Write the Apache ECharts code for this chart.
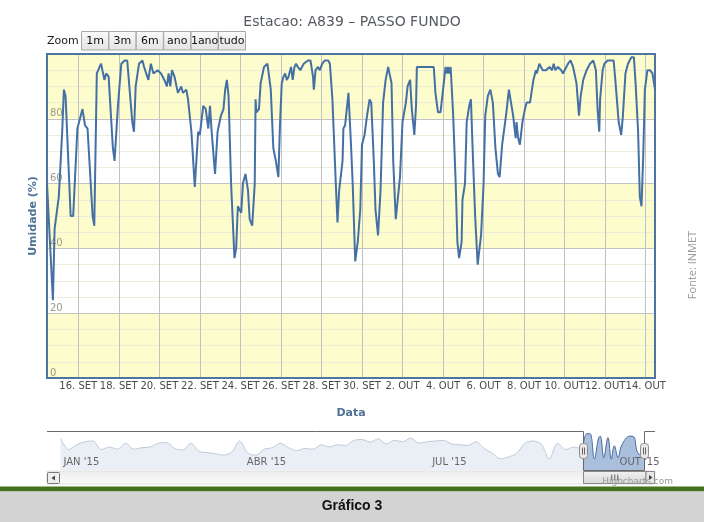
<!DOCTYPE html>
<html>
<head>
<meta charset="utf-8">
<script src="https://cdn.jsdelivr.net/npm/echarts@6/dist/echarts.min.js"></script>
<style>
html,body{margin:0;padding:0;background:#fff;}
#c{width:704px;height:522px;}
</style>
</head>
<body>
<div id="c"></div>
<script>
// ---------- texts ----------
const titleText = 'Estacao: A839 \u2013 PASSO FUNDO';
const yAxisTitle = 'Umidade (%)';
const xAxisTitle = 'Data';
const captionText = 'Gráfico 3';
const sourceText = 'Fonte: INMET';
const creditText = 'Highcharts.com';
const zoomLabel = 'Zoom';
const zoomButtons = ['1m', '3m', '6m', 'ano', '1ano', 'tudo'];
const monthNames = ['JAN','FEV','MAR','ABR','MAI','JUN','JUL','AGO','SET','OUT','NOV','DEZ'];

// ---------- axes ----------
const viewStart = '2015-09-14 11:00';
const viewEnd = '2015-10-14 11:00';
const xTickDates = ['2015-09-16','2015-09-18','2015-09-20','2015-09-22','2015-09-24','2015-09-26','2015-09-28','2015-09-30',
                    '2015-10-02','2015-10-04','2015-10-06','2015-10-08','2015-10-10','2015-10-12','2015-10-14'];
const yMin = 0, yMax = 100, yStep = 20;
const navRange = ['2014-12-25 09:00', '2015-10-19 21:00'];
const navTickDates = ['2015-01-01','2015-04-01','2015-07-01','2015-10-01'];

// ---------- relative humidity (%), Sep 14 - Oct 14 2015 ----------
const humTimes = [
'2015-09-14 11:00','2015-09-14 18:00','2015-09-14 20:00',
'2015-09-15 01:00','2015-09-15 05:00','2015-09-15 07:00','2015-09-15 09:00','2015-09-15 15:00','2015-09-15 18:00','2015-09-15 23:00',
'2015-09-16 05:00','2015-09-16 08:00','2015-09-16 11:00','2015-09-16 17:00','2015-09-16 19:00','2015-09-16 22:00',
'2015-09-17 03:00','2015-09-17 07:00','2015-09-17 09:00','2015-09-17 12:00','2015-09-17 17:00','2015-09-17 19:00','2015-09-17 23:00',
'2015-09-18 03:00','2015-09-18 07:00','2015-09-18 10:00','2015-09-18 16:00','2015-09-18 18:00','2015-09-18 20:00',
'2015-09-19 00:00','2015-09-19 04:00','2015-09-19 06:00','2015-09-19 08:00','2015-09-19 11:00','2015-09-19 14:00','2015-09-19 17:00','2015-09-19 22:00',
'2015-09-20 02:00','2015-09-20 06:00','2015-09-20 09:00','2015-09-20 11:00','2015-09-20 13:00','2015-09-20 15:00','2015-09-20 18:00','2015-09-20 22:00',
'2015-09-21 02:00','2015-09-21 04:00','2015-09-21 08:00','2015-09-21 10:00','2015-09-21 14:00','2015-09-21 18:00','2015-09-21 22:00',
'2015-09-22 00:00','2015-09-22 04:00','2015-09-22 07:00','2015-09-22 10:00','2015-09-22 12:00','2015-09-22 14:00','2015-09-22 18:00','2015-09-22 21:00',
'2015-09-23 01:00','2015-09-23 04:00','2015-09-23 06:00','2015-09-23 08:00','2015-09-23 10:00','2015-09-23 13:00','2015-09-23 17:00','2015-09-23 19:00','2015-09-23 21:00','2015-09-23 23:00',
'2015-09-24 01:00','2015-09-24 03:00','2015-09-24 06:00','2015-09-24 09:00','2015-09-24 11:00','2015-09-24 14:00','2015-09-24 17:00','2015-09-24 18:00','2015-09-24 19:00','2015-09-24 22:00',
'2015-09-25 00:00','2015-09-25 04:00','2015-09-25 08:00','2015-09-25 10:00','2015-09-25 12:00','2015-09-25 15:00','2015-09-25 18:00','2015-09-25 21:00','2015-09-25 23:00',
'2015-09-26 01:00','2015-09-26 03:00','2015-09-26 05:00','2015-09-26 07:00','2015-09-26 09:00','2015-09-26 12:00','2015-09-26 14:00','2015-09-26 16:00','2015-09-26 18:00','2015-09-26 20:00','2015-09-26 23:00',
'2015-09-27 03:00','2015-09-27 08:00','2015-09-27 11:00','2015-09-27 14:00','2015-09-27 15:00','2015-09-27 17:00','2015-09-27 20:00','2015-09-27 22:00',
'2015-09-28 01:00','2015-09-28 04:00','2015-09-28 08:00','2015-09-28 10:00','2015-09-28 13:00','2015-09-28 17:00','2015-09-28 19:00','2015-09-28 21:00',
'2015-09-29 01:00','2015-09-29 02:00','2015-09-29 04:00','2015-09-29 08:00','2015-09-29 11:00','2015-09-29 13:00','2015-09-29 16:00','2015-09-29 19:00','2015-09-29 22:00',
'2015-09-30 00:00','2015-09-30 03:00','2015-09-30 06:00','2015-09-30 09:00','2015-09-30 11:00','2015-09-30 14:00','2015-09-30 16:00','2015-09-30 19:00','2015-09-30 22:00',
'2015-10-01 01:00','2015-10-01 04:00','2015-10-01 07:00','2015-10-01 09:00','2015-10-01 11:00','2015-10-01 13:00','2015-10-01 16:00','2015-10-01 18:00','2015-10-01 21:00',
'2015-10-02 00:00','2015-10-02 04:00','2015-10-02 06:00','2015-10-02 09:00','2015-10-02 11:00','2015-10-02 14:00','2015-10-02 16:00','2015-10-02 17:00','2015-10-02 20:00',
'2015-10-03 00:00','2015-10-03 04:00','2015-10-03 08:00','2015-10-03 13:00','2015-10-03 15:00','2015-10-03 18:00','2015-10-03 21:00',
'2015-10-04 00:00','2015-10-04 03:00','2015-10-04 05:00','2015-10-04 06:00','2015-10-04 07:00','2015-10-04 09:00','2015-10-04 12:00','2015-10-04 15:00','2015-10-04 17:00','2015-10-04 19:00','2015-10-04 22:00','2015-10-04 23:00',
'2015-10-05 02:00','2015-10-05 04:00','2015-10-05 07:00','2015-10-05 09:00','2015-10-05 11:00','2015-10-05 14:00','2015-10-05 17:00','2015-10-05 19:00','2015-10-05 21:00',
'2015-10-06 00:00','2015-10-06 02:00','2015-10-06 05:00','2015-10-06 08:00','2015-10-06 11:00','2015-10-06 14:00','2015-10-06 17:00','2015-10-06 19:00','2015-10-06 22:00',
'2015-10-07 01:00','2015-10-07 03:00','2015-10-07 06:00','2015-10-07 08:00','2015-10-07 11:00','2015-10-07 14:00','2015-10-07 15:00','2015-10-07 17:00','2015-10-07 19:00','2015-10-07 22:00',
'2015-10-08 01:00','2015-10-08 03:00','2015-10-08 07:00','2015-10-08 09:00','2015-10-08 11:00','2015-10-08 14:00','2015-10-08 15:00','2015-10-08 18:00','2015-10-08 22:00',
'2015-10-09 02:00','2015-10-09 06:00','2015-10-09 09:00','2015-10-09 11:00','2015-10-09 13:00','2015-10-09 16:00','2015-10-09 18:00','2015-10-09 20:00','2015-10-09 22:00',
'2015-10-10 00:00','2015-10-10 02:00','2015-10-10 04:00','2015-10-10 07:00','2015-10-10 10:00','2015-10-10 14:00','2015-10-10 17:00','2015-10-10 19:00','2015-10-10 22:00',
'2015-10-11 02:00','2015-10-11 06:00','2015-10-11 10:00','2015-10-11 13:00','2015-10-11 15:00','2015-10-11 17:00','2015-10-11 18:00','2015-10-11 21:00','2015-10-11 23:00',
'2015-10-12 03:00','2015-10-12 07:00','2015-10-12 10:00','2015-10-12 12:00','2015-10-12 16:00','2015-10-12 19:00','2015-10-12 21:00',
'2015-10-13 00:00','2015-10-13 03:00','2015-10-13 07:00','2015-10-13 10:00','2015-10-13 12:00','2015-10-13 15:00','2015-10-13 17:00','2015-10-13 19:00','2015-10-13 21:00','2015-10-13 23:00',
'2015-10-14 02:00','2015-10-14 05:00','2015-10-14 08:00','2015-10-14 11:00'
];
const humValues = [
60,24,46,
56,76,89,87,50,50,77,
83,78,77,50,47,94,
97,92,94,93,71,67,84,
97,98,98,79,76,90,
97,98,96,96,92,97,94,95,
94,92,90,94,90,95,93,88,
90,88,89,86,76,59,76,
75,84,83,77,84,76,63,76,
81,83,89,92,87,60,37,40,53,53,
51,60,63,58,49,47,60,86,82,83,
91,96,97,97,89,71,67,62,79,
91,93,94,92,93,96,92,96,97,96,95,
97,98,98,93,89,95,96,95,
97,98,98,97,86,60,48,58,
67,77,78,88,72,60,36,42,52,
72,75,81,86,85,67,52,44,58,
85,92,96,96,91,67,49,49,62,
79,85,90,92,83,75,84,96,96,
96,96,96,96,88,82,82,
89,96,94,96,94,96,81,60,42,37,42,55,
60,79,84,86,71,50,35,35,44,
60,81,87,89,85,71,63,62,72,
78,82,89,89,81,74,79,74,72,79,
83,85,85,85,92,95,94,97,95,
95,96,95,97,95,96,96,95,94,
95,95,97,98,96,91,81,87,92,
95,97,98,95,83,76,86,95,97,
98,98,98,92,79,75,81,
94,97,99,99,91,76,56,53,68,89,
95,95,94,89
];

// ---------- navigator (whole year, one reading every 4 days from Jan 1) ----------
const navStart = '2015-01-01';
const navStepDays = 4;
const navValues = [
85,55,68,76,78,55,62,56,72,56,
60,62,72,74,58,54,72,50,47,44,
40,48,78,45,40,56,60,72,60,52,
58,56,68,62,68,66,80,82,75,84,
70,80,76,86,72,76,78,80,70,68,
66,76,58,45,30,35,45,72,78,70,
30,72,55,62
];
// navigator curve inside the selected month, as drawn in the navigator
const navSelTimes = ['2015-09-14 11:00','2015-09-16 00:00','2015-09-17 22:00','2015-09-20 02:00','2015-09-22 05:00',
                     '2015-09-23 00:00','2015-09-24 17:00','2015-09-26 19:00','2015-09-28 10:00','2015-09-29 22:00',
                     '2015-10-01 17:00','2015-10-03 14:00','2015-10-07 12:00','2015-10-09 12:00','2015-10-11 00:00',
                     '2015-10-12 17:00','2015-10-14 11:00'];
const navSelValues = [56,96,98,30,87,91,33,87,29,65,33,67,91,89,51,40,38];

// ---------- helpers ----------
function ms(s) {
  const parts = s.split(' ');
  const d = parts[0].split('-').map(Number);
  const t = (parts[1] || '00:00').split(':').map(Number);
  return new Date(d[0], d[1] - 1, d[2], t[0], t[1]).getTime();
}
const FONT = 'DejaVu Sans';
const mainData = humTimes.map((t, i) => [ms(t), humValues[i]]);
const navBase = ms(navStart);
const navData = navValues.map((v, i) => {
  const d = new Date(navBase); d.setDate(d.getDate() + i * navStepDays);
  return [d.getTime(), v];
});
const navSelData = navSelTimes.map((t, i) => [ms(t), navSelValues[i]]);
const xTickMs = xTickDates.map(ms);
const navTickMs = navTickDates.map(ms);

const chart = echarts.init(document.getElementById('c'), null, {renderer: 'canvas', width: 704, height: 522});

const option = {
  animation: false,
  backgroundColor: '#ffffff',
  title: {
    text: titleText, left: 'center', top: 10,
    textStyle: {fontFamily: FONT, fontSize: 14, fontWeight: 'normal', color: '#555a60'}
  },
  grid: [
    {left: 47, top: 54, width: 608, height: 324, show: true, borderColor: '#4f74a0', borderWidth: 2,
     backgroundColor: 'transparent', z: 1},
    {left: 47, top: 431, width: 608, height: 39, show: false}
  ],
  xAxis: [
    {
      type: 'value', gridIndex: 0, min: ms(viewStart), max: ms(viewEnd), scale: true,
      name: xAxisTitle, nameLocation: 'middle', nameGap: 30,
      nameTextStyle: {fontFamily: FONT, fontSize: 11, fontWeight: 'bold', color: '#4d7196'},
      axisLine: {show: false},
      axisTick: {show: false, customValues: xTickMs},
      axisLabel: {
        customValues: xTickMs, margin: 3, hideOverlap: false,
        fontFamily: FONT, fontSize: 10, color: '#4a4a4a',
        formatter: v => { const d = new Date(v); return d.getDate() + '. ' + monthNames[d.getMonth()]; }
      },
      splitLine: {show: true, lineStyle: {color: '#c2c2c2', width: 1}}
    },
    {
      type: 'value', gridIndex: 1, min: ms(navRange[0]), max: ms(navRange[1]), scale: true, z: 5,
      axisLine: {show: false},
      axisTick: {show: false, customValues: navTickMs},
      axisLabel: {
        customValues: navTickMs, inside: true, margin: 3, align: 'left', verticalAlign: 'bottom',
        padding: [0, 0, 0, 3], hideOverlap: false,
        fontFamily: FONT, fontSize: 10, color: '#666666',
        formatter: v => { const d = new Date(v); return monthNames[d.getMonth()] + " '" + String(d.getFullYear()).slice(2); }
      },
      splitLine: {show: false}
    }
  ],
  yAxis: [
    {
      type: 'value', gridIndex: 0, min: yMin, max: yMax, interval: yStep,
      name: yAxisTitle, nameLocation: 'middle', nameGap: 1, nameRotate: 90,
      nameTextStyle: {fontFamily: FONT, fontSize: 11, fontWeight: 'bold', color: '#4d7196'},
      axisLine: {show: false}, axisTick: {show: false},
      axisLabel: {inside: true, margin: 3, verticalAlign: 'bottom', showMaxLabel: false,
                  fontFamily: FONT, fontSize: 10, color: '#9a9a8a'},
      splitLine: {show: true, lineStyle: {color: '#c2c2c2', width: 1}},
      splitArea: {show: true, areaStyle: {color: ['#fcfccd', '#ffffff']}},
      minorTick: {show: false, splitNumber: 4},
      minorSplitLine: {show: true, lineStyle: {color: '#ececdc', width: 1}}
    },
    {type: 'value', gridIndex: 1, min: 0, max: 105, show: false, splitLine: {show: false}}
  ],
  series: [
    {
      type: 'line', xAxisIndex: 0, yAxisIndex: 0, data: mainData,
      symbol: 'none', showSymbol: false, z: 3,
      lineStyle: {color: '#4570a5', width: 2}
    },
    {
      type: 'line', xAxisIndex: 1, yAxisIndex: 1, data: navData.concat(navSelData),
      symbol: 'none', showSymbol: false, silent: true, smooth: 0.3,
      lineStyle: {color: '#bfcbdb', width: 1},
      areaStyle: {color: '#eaeff5', opacity: 1}
    },
    {
      type: 'line', xAxisIndex: 1, yAxisIndex: 1, data: navSelData,
      symbol: 'none', showSymbol: false, silent: true, smooth: 0.4,
      lineStyle: {color: '#4a72a8', width: 1},
      areaStyle: {color: '#a9bfdc', opacity: 1}
    }
  ]
};
chart.setOption(option);

// ---------- navigator outline / handles / scrollbar and page decorations ----------
const selL = Math.round(chart.convertToPixel({xAxisIndex: 1}, ms(viewStart))) + 0.5;
const selR = Math.round(chart.convertToPixel({xAxisIndex: 1}, ms(viewEnd))) + 0.5;
const navL = 47, navR = 655, navT = 431.5, navB = 470.5;

const g = [];
g.push({type: 'text', x: 47, y: 41, style: {text: zoomLabel, fill: '#222', fontFamily: FONT, fontSize: 11,
        align: 'left', verticalAlign: 'middle'}});
zoomButtons.forEach((b, i) => {
  const x = 81.5 + i * 27.4;
  g.push({type: 'rect', shape: {x: x, y: 31.5, width: 27, height: 18.5},
          style: {fill: new echarts.graphic.LinearGradient(0, 0, 0, 1, [{offset: 0, color: '#fbfbfb'}, {offset: 1, color: '#e2e2e2'}]),
                  stroke: '#a8a8a8', lineWidth: 1}});
  g.push({type: 'text', x: x + 13.5, y: 41, style: {text: b, fill: '#111', fontFamily: FONT, fontSize: 11,
          align: 'center', verticalAlign: 'middle'}});
});
g.push({type: 'rect', shape: {x: navL, y: 471, width: navR - navL, height: 13},
        style: {fill: new echarts.graphic.LinearGradient(0, 0, 0, 1, [{offset: 0, color: '#ececec'}, {offset: 1, color: '#fbfbfb'}]),
                stroke: '#e2e2e2', lineWidth: 1}});
g.push({type: 'rect', shape: {x: navL + 0.5, y: 472.5, width: 12, height: 11, r: 1},
        style: {fill: '#eeeeee', stroke: '#777', lineWidth: 1}});
g.push({type: 'polygon', shape: {points: [[navL + 4.5, 478], [navL + 8, 475.5], [navL + 8, 480.5]]}, style: {fill: '#444'}});
g.push({type: 'rect', shape: {x: selL, y: 471.5, width: navR - 9 - selL, height: 12},
        style: {fill: new echarts.graphic.LinearGradient(0, 0, 0, 1, [{offset: 0, color: '#f2f2f2'}, {offset: 1, color: '#d8d8d8'}]),
                stroke: '#8a8a8a', lineWidth: 1}});
const gripX = (selL + navR - 9) / 2;
[-3, 0, 3].forEach(d => g.push({type: 'line', shape: {x1: gripX + d, y1: 474.5, x2: gripX + d, y2: 480.5}, style: {stroke: '#666', lineWidth: 1}}));
g.push({type: 'rect', shape: {x: navR - 9, y: 471.5, width: 8.5, height: 12},
        style: {fill: '#e6e6e6', stroke: '#8a8a8a', lineWidth: 1}});
g.push({type: 'polygon', shape: {points: [[navR - 2.5, 477.5], [navR - 6, 475], [navR - 6, 480]]}, style: {fill: '#444'}});
g.push({type: 'polyline', shape: {points: [[navL, navT], [selL, navT], [selL, navB], [selR, navB], [selR, navT], [navR, navT]]},
        style: {stroke: '#6a6a6a', lineWidth: 1, fill: null}, z: 10});
[selL, selR].forEach(x => {
  g.push({type: 'rect', shape: {x: x - 4, y: 443.5, width: 8, height: 15, r: 3},
          style: {fill: '#ebe7e8', stroke: '#8c8c8c', lineWidth: 1}, z: 11});
  g.push({type: 'line', shape: {x1: x - 1, y1: 447.5, x2: x - 1, y2: 454.5}, style: {stroke: '#666', lineWidth: 1}, z: 12});
  g.push({type: 'line', shape: {x1: x + 1, y1: 447.5, x2: x + 1, y2: 454.5}, style: {stroke: '#666', lineWidth: 1}, z: 12});
});
g.push({type: 'text', x: 673, y: 482, style: {text: creditText, fill: '#9a9a9a', fontFamily: FONT, fontSize: 9,
        align: 'right', verticalAlign: 'middle'}, z: 13});
g.push({type: 'text', x: 693, y: 265, rotation: Math.PI / 2,
        style: {text: sourceText, fill: '#9a9a9a', fontFamily: 'Open Sans', fontSize: 11,
                align: 'center', verticalAlign: 'middle'}});
g.push({type: 'rect', shape: {x: 0, y: 486.5, width: 704, height: 5}, style: {fill: '#44701f'}});
g.push({type: 'rect', shape: {x: 0, y: 491.5, width: 704, height: 31}, style: {fill: '#d3d3d3'}});
g.push({type: 'text', x: 352, y: 506, style: {text: captionText, fill: '#111', fontFamily: 'Liberation Sans',
        fontSize: 14, fontWeight: 'bold', align: 'center', verticalAlign: 'middle'}});

chart.setOption({graphic: {elements: g}});
</script>
</body>
</html>
